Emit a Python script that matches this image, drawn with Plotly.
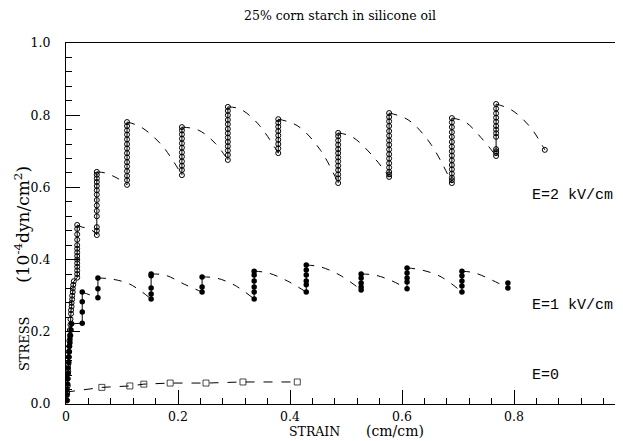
import plotly.graph_objects as go

# ---------------- data ----------------
# E = 2 kV/cm : initial ramp (open circles)
e2_ramp_x = [0.002, 0.002, 0.003, 0.003, 0.004, 0.004, 0.005, 0.005, 0.006, 0.006, 0.007, 0.007,
             0.008, 0.008, 0.009, 0.009, 0.010, 0.010, 0.011, 0.011, 0.012, 0.012, 0.013, 0.014]
e2_ramp_y = [0.01, 0.03, 0.05, 0.07, 0.09, 0.11, 0.13, 0.145, 0.16, 0.175, 0.19, 0.205,
             0.22, 0.235, 0.25, 0.26, 0.27, 0.28, 0.29, 0.30, 0.31, 0.32, 0.33, 0.34]
# E = 2 kV/cm : vertical columns (strain, list of stresses)
e2_col_x = [0.020, 0.055, 0.109, 0.207, 0.289, 0.379, 0.486, 0.577, 0.689, 0.768]
e2_col_y = [
    [0.35, 0.36, 0.37, 0.38, 0.39, 0.40, 0.41, 0.42, 0.43, 0.44, 0.455, 0.47, 0.485, 0.496],
    [0.468, 0.48, 0.49, 0.52, 0.535, 0.55, 0.565, 0.58, 0.592, 0.604, 0.615, 0.625, 0.635, 0.643],
    [0.607, 0.62, 0.632, 0.645, 0.658, 0.67, 0.683, 0.695, 0.708, 0.72, 0.733, 0.746, 0.758, 0.77, 0.781],
    [0.634, 0.648, 0.66, 0.672, 0.685, 0.697, 0.71, 0.722, 0.735, 0.747, 0.758, 0.767],
    [0.676, 0.69, 0.702, 0.714, 0.726, 0.738, 0.75, 0.762, 0.775, 0.787, 0.80, 0.812, 0.823],
    [0.695, 0.708, 0.72, 0.732, 0.744, 0.756, 0.768, 0.779, 0.789],
    [0.612, 0.625, 0.636, 0.648, 0.66, 0.672, 0.683, 0.695, 0.706, 0.718, 0.73, 0.742, 0.751],
    [0.629, 0.636, 0.643, 0.655, 0.667, 0.68, 0.692, 0.705, 0.718, 0.73, 0.743, 0.756, 0.77, 0.783, 0.795, 0.806],
    [0.612, 0.62, 0.627, 0.638, 0.65, 0.662, 0.675, 0.688, 0.70, 0.713, 0.726, 0.74, 0.753, 0.767, 0.78, 0.792],
    [0.687, 0.695, 0.70, 0.706, 0.74, 0.75, 0.76, 0.77, 0.782, 0.793, 0.805, 0.818, 0.831],
]
e2_end_x = [0.855]
e2_end_y = [0.704]
# dashed relaxation curves: interior points between column top and next column bottom
e2_arc_x = [[0.029, 0.043], [0.070, 0.091], [0.134, 0.171], [0.236, 0.266], [0.311, 0.343],
            [0.414, 0.454], [0.511, 0.546], [0.611, 0.650], [0.713, 0.745], [0.796, 0.829]]
e2_arc_y = [[0.490, 0.485], [0.640, 0.626], [0.767, 0.717], [0.759, 0.723], [0.817, 0.776],
            [0.770, 0.704], [0.740, 0.690], [0.787, 0.723], [0.781, 0.731], [0.814, 0.767]]

# E = 1 kV/cm : initial ramp (filled circles)
e1_ramp_x = [0.001, 0.002, 0.002, 0.003, 0.003, 0.004, 0.004, 0.005, 0.005, 0.006, 0.006,
             0.007, 0.007, 0.008, 0.009, 0.010]
e1_ramp_y = [0.01, 0.025, 0.04, 0.055, 0.07, 0.085, 0.10, 0.115, 0.13, 0.145, 0.16,
             0.17, 0.18, 0.19, 0.205, 0.222]
e1_col_x = [0.029, 0.057, 0.152, 0.243, 0.336, 0.429, 0.527, 0.609, 0.707, 0.789]
e1_col_y = [
    [0.224, 0.255, 0.283, 0.310],
    [0.294, 0.319, 0.349],
    [0.291, 0.305, 0.321, 0.355, 0.360],
    [0.310, 0.324, 0.352],
    [0.291, 0.310, 0.324, 0.341, 0.357, 0.368],
    [0.310, 0.330, 0.341, 0.357, 0.371, 0.385],
    [0.316, 0.324, 0.335, 0.349, 0.360],
    [0.319, 0.338, 0.349, 0.363, 0.377],
    [0.310, 0.327, 0.341, 0.355, 0.368],
    [0.321, 0.335],
]
e1_arc_x = [[0.043], [0.082, 0.114], [0.177, 0.211], [0.268, 0.300], [0.361, 0.395],
            [0.454, 0.489], [0.552, 0.582], [0.636, 0.670], [0.730, 0.761]]
e1_arc_y = [[0.302], [0.346, 0.332], [0.357, 0.332], [0.349, 0.330], [0.363, 0.341],
            [0.380, 0.357], [0.357, 0.341], [0.371, 0.352], [0.363, 0.343]]

# E = 0 (open squares)
e0_x = [0.0, 0.064, 0.114, 0.139, 0.186, 0.250, 0.316, 0.413]
e0_y = [0.033, 0.046, 0.050, 0.055, 0.058, 0.058, 0.061, 0.061]

series_labels = ["E=2 kV/cm", "E=1 kV/cm", "E=0"]
label_y = [0.578, 0.274, 0.080]
x_ticks = [0, 0.2, 0.4, 0.6, 0.8]
x_ticktext = ["0", "0.2", "0.4", "0.6", "0.8"]
y_ticks = [0, 0.2, 0.4, 0.6, 0.8, 1.0]
y_ticktext = ["0.0", "0.2", "0.4", "0.6", "0.8", "1.0"]

# ---------------- build ----------------
def columns(ramp_x, ramp_y, col_x, col_y):
    xs, ys = list(ramp_x), list(ramp_y)
    xs += [col_x[0]] * len(col_y[0]); ys += col_y[0]
    for cx, cy in zip(col_x[1:], col_y[1:]):
        xs += [None] + [cx] * len(cy)
        ys += [None] + cy
    return xs, ys

def arcs(col_x, col_y, arc_x, arc_y, end_x=None, end_y=None):
    xs, ys = [], []
    for i, (ax, ay) in enumerate(zip(arc_x, arc_y)):
        if i + 1 < len(col_x):
            nx, ny = col_x[i + 1], min(col_y[i + 1])
        else:
            nx, ny = end_x[0], end_y[0]
        xs += [col_x[i]] + ax + [nx, None]
        ys += [max(col_y[i])] + ay + [ny, None]
    return xs, ys

fig = go.Figure()
black = "black"
dash = "8px,8px"

# E=2
ax_, ay_ = arcs(e2_col_x, e2_col_y, e2_arc_x, e2_arc_y, e2_end_x, e2_end_y)
fig.add_trace(go.Scatter(x=ax_, y=ay_, mode="lines", line=dict(color=black, width=1, dash=dash, shape="spline"),
                         connectgaps=False, hoverinfo="skip"))
cx_, cy_ = columns(e2_ramp_x, e2_ramp_y, e2_col_x, e2_col_y)
fig.add_trace(go.Scatter(x=cx_, y=cy_, mode="lines+markers", line=dict(color=black, width=1),
                         marker=dict(symbol="circle-open", size=5, color=black, line=dict(width=1))))
fig.add_trace(go.Scatter(x=e2_end_x, y=e2_end_y, mode="markers",
                         marker=dict(symbol="circle-open", size=5, color=black, line=dict(width=1))))

# E=1
ax_, ay_ = arcs(e1_col_x, e1_col_y, e1_arc_x, e1_arc_y)
fig.add_trace(go.Scatter(x=ax_, y=ay_, mode="lines", line=dict(color=black, width=1, dash=dash, shape="spline"),
                         connectgaps=False, hoverinfo="skip"))
cx_, cy_ = columns(e1_ramp_x, e1_ramp_y, e1_col_x, e1_col_y)
fig.add_trace(go.Scatter(x=cx_, y=cy_, mode="lines+markers", line=dict(color=black, width=1),
                         marker=dict(symbol="circle", size=5.5, color=black)))

# E=0
fig.add_trace(go.Scatter(x=e0_x, y=e0_y, mode="lines+markers",
                         line=dict(color=black, width=1, dash="9px,9px"),
                         marker=dict(symbol="square-open", size=[0] + [6] * (len(e0_x) - 1),
                                     color=black, line=dict(width=1))))

for lab, ly in zip(series_labels, label_y):
    fig.add_annotation(x=0.829, y=ly, xref="x", yref="y", text=lab, showarrow=False,
                       xanchor="left", yanchor="middle",
                       font=dict(family="Liberation Mono", size=15, color=black))

serif = "DejaVu Serif"
fig.add_annotation(x=0.492, y=1.075, xref="paper", yref="paper", showarrow=False,
                   text="25% corn starch in silicone oil",
                   font=dict(family=serif, size=12.5, color=black), xanchor="center", yanchor="middle")
fig.add_annotation(x=0.447, y=-0.075, xref="paper", yref="paper", showarrow=False, text="STRAIN",
                   font=dict(family=serif, size=12.5, color=black), xanchor="center", yanchor="middle")
fig.add_annotation(x=0.591, y=-0.075, xref="paper", yref="paper", showarrow=False, text="(cm/cm)",
                   font=dict(family=serif, size=14, color=black), xanchor="center", yanchor="middle")
fig.add_annotation(x=-0.0754, y=0.166, xref="paper", yref="paper", showarrow=False, textangle=-90,
                   text="STRESS", font=dict(family=serif, size=13, color=black),
                   xanchor="center", yanchor="middle")
fig.add_annotation(x=-0.079, y=0.499, xref="paper", yref="paper", showarrow=False, textangle=-90,
                   text="(10<sup>-4</sup>dyn/cm<sup>2</sup>)", font=dict(family=serif, size=17, color=black),
                   xanchor="center", yanchor="middle")

axis_common = dict(showgrid=False, zeroline=False, showline=True, linecolor=black, linewidth=1,
                   ticks="inside", ticklen=14, tickwidth=1, tickcolor=black,
                   tickfont=dict(family=serif, size=12.5, color=black),
                   minor=dict(ticks="inside", ticklen=6, tickwidth=1, tickcolor=black, dtick=0.04))
fig.update_xaxes(range=[0, 0.9946], tickvals=x_ticks, ticktext=x_ticktext, mirror=True,
                 ticklabelstandoff=1, **axis_common)
fig.update_yaxes(range=[0, 1.0], tickvals=y_ticks, ticktext=y_ticktext,
                 ticklabelstandoff=12, **axis_common)

# page has an 8px body margin, so the figure is sized to end exactly at the window edge
fig.update_layout(width=615, height=433, margin=dict(l=58, r=0, t=35, b=37, autoexpand=False),
                  plot_bgcolor="white", paper_bgcolor="white", showlegend=False)
fig.write_html("out.html")
